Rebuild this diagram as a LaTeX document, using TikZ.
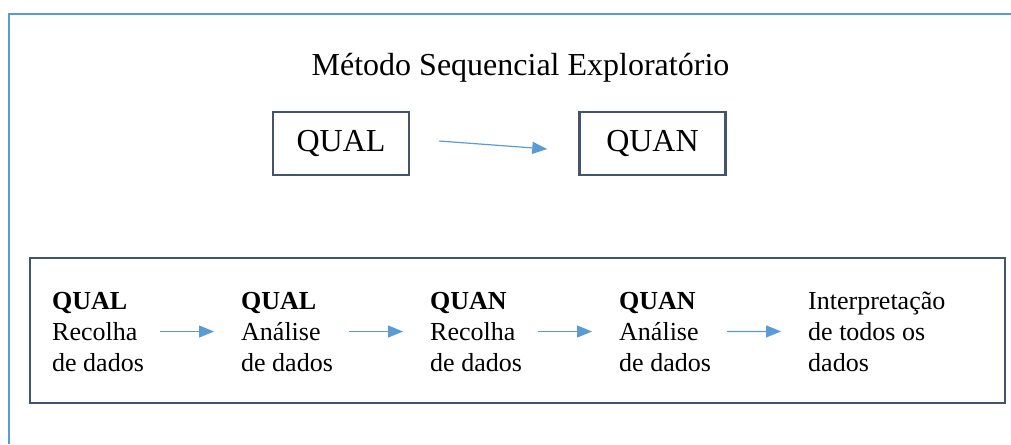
\documentclass[tikz,border=0pt]{standalone}
\usepackage{fontspec}
\setmainfont{Liberation Serif}
\usetikzlibrary{positioning,arrows.meta}
\definecolor{boxline}{HTML}{44546A}
\definecolor{sheetblue}{HTML}{5B9BD5}
\tikzset{
node distance=168pt, % gap between the two upper boxes
method/.style={draw=boxline, line width=2.5pt, font=\fontsize{32}{38}\selectfont, minimum height=63pt}, % QUAL / QUAN boxes
stage/.style={align=left, inner sep=0pt, anchor=base west, font=\fontsize{26}{31}\selectfont}, % one step of the sequence
flow/.style={color=sheetblue, line width=1.2pt, -{Triangle[length=15pt,width=12pt]}},
}

\begin{document}
\begin{tikzpicture}[x=1pt,y=-1pt]
   \useasboundingbox (0,0) rectangle (1011,444);
   \draw[sheetblue, line width=2.2pt] (9,444) -- (9,14) -- (1011,14);
   \node[font=\fontsize{32}{38}\selectfont, anchor=base] (title) at (520.5,75) {Método Sequencial Exploratório};
   \node[method, minimum width=136pt] (qual) at (341,143.5) {QUAL};
   \node[method, minimum width=146pt] (quan) [right=of qual] {QUAN};
   \node[draw=boxline, line width=2.5pt, minimum width=975pt, minimum height=145pt] (frame) at (517.5,330.5) {};
   % base of a stage = baseline of its last line
   \node[stage] (s_1) at (52,371) {\textbf{QUAL}\\Recolha\\de dados};
   \node[stage] (s_2) [right=189pt of s_1.base west, anchor=base west] {\textbf{QUAL}\\Análise\\de dados};
   \node[stage] (s_3) [right=189pt of s_2.base west, anchor=base west] {\textbf{QUAN}\\Recolha\\de dados};
   \node[stage] (s_4) [right=189pt of s_3.base west, anchor=base west] {\textbf{QUAN}\\Análise\\de dados};
   \node[stage] (s_5) [right=189pt of s_4.base west, anchor=base west] {Interpretação\\de todos os\\dados};
    \draw[flow] ([xshift=29pt,yshift=2.5pt]qual.east) -- ([xshift=-31pt,yshift=-5.5pt]quan.west);
    \path[flow, shorten <=16pt, shorten >=27pt]
    (s_1.east) edge (s_2.west)
    (s_2.east) edge (s_3.west)
    (s_3.east) edge (s_4.west)
    (s_4.east) edge (s_5.west);
\end{tikzpicture}
\end{document}
